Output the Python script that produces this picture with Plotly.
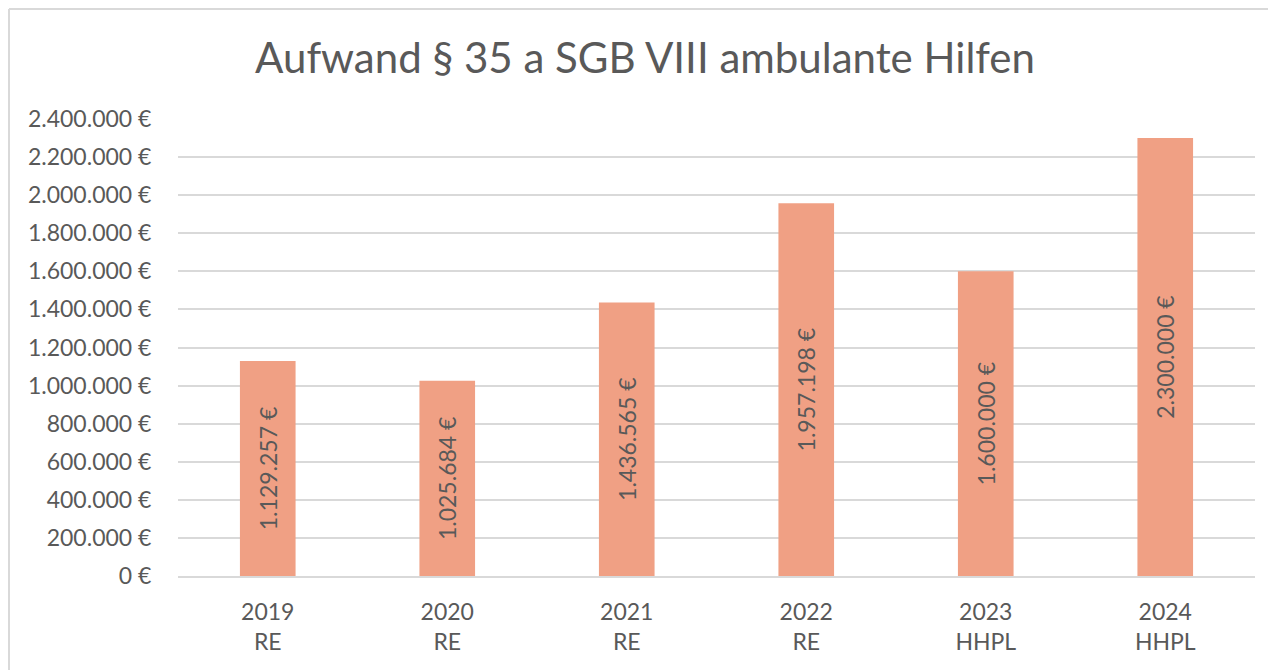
import plotly.graph_objects as go

years = ["2019", "2020", "2021", "2022", "2023", "2024"]
kinds = ["RE", "RE", "RE", "RE", "HHPL", "HHPL"]
values = [1129257, 1025684, 1436565, 1957198, 1600000, 2300000]
tick_vals = [0, 200000, 400000, 600000, 800000, 1000000, 1200000,
             1400000, 1600000, 1800000, 2000000, 2200000, 2400000]


def eur(v):
    return f"{v:,.0f}".replace(",", ".") + " €"


categories = [f"{y}<br>{k}" for y, k in zip(years, kinds)]

# page body has an 8px margin; place everything relative to that offset
OFF = 8
SW, SH = 1276, 670
W, H = SW - OFF, SH - OFF
px_left, px_right, px_top, px_bottom = 178 - OFF, 1255 - OFF, 119 - OFF, 576 - OFF
L, R, T, B = px_left, W - px_right, px_top, H - px_bottom
pw, ph = px_right - px_left, px_bottom - px_top

fx = lambda p: (p - L) / pw          # figure px -> paper x
fy = lambda p: (px_bottom - p) / ph  # figure px -> paper y

fig = go.Figure(go.Bar(
    x=categories, y=values,
    marker=dict(color="#F0A084", line=dict(width=0)),
    width=0.31,
    text=[eur(v) for v in values],
    textposition="inside",
    insidetextanchor="middle",
    textangle=-90,
    textfont=dict(family="Lato", size=23, color="#595959"),
    hoverinfo="skip",
))

border = dict(color="#D9D9D9", width=2)
fig.update_layout(
    width=W, height=H,
    margin=dict(l=L, r=R, t=T, b=B, autoexpand=False),
    paper_bgcolor="white", plot_bgcolor="white",
    showlegend=False,
    font=dict(family="Lato", color="#595959"),
    title=dict(text="Aufwand § 35 a SGB VIII ambulante Hilfen",
               x=(645 - 178) / pw, xref="paper", xanchor="center",
               y=1 - (58 - OFF) / H, yref="container", yanchor="middle",
               font=dict(family="Lato", size=42, color="#595959")),
    shapes=[
        dict(type="line", xref="paper", yref="paper",
             x0=fx(1), x1=fx(1), y0=fy(H), y1=fy(1), line=border, layer="below"),
        dict(type="line", xref="paper", yref="paper",
             x0=fx(1), x1=fx(W), y0=fy(1), y1=fy(1), line=border, layer="below"),
    ],
)

fig.update_yaxes(
    range=[0, 2400000], tickvals=tick_vals, ticktext=[eur(v) for v in tick_vals],
    showgrid=True, gridcolor="#D9D9D9", gridwidth=1.5,
    zeroline=False, showline=False,
    ticks="outside", ticklen=21, tickcolor="rgba(0,0,0,0)",
    tickfont=dict(family="Lato", size=23, color="#595959"),
)
fig.update_xaxes(
    showline=True, linecolor="#D9D9D9", linewidth=2,
    ticks="outside", ticklen=14, tickcolor="rgba(0,0,0,0)",
    tickfont=dict(family="Lato", size=23, color="#595959"),
)

fig.write_html("out.html")
